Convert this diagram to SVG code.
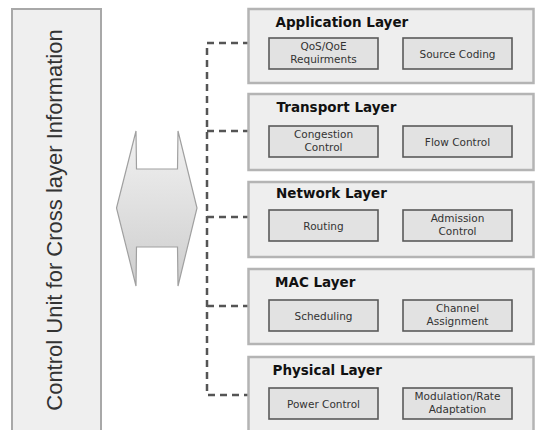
<svg xmlns="http://www.w3.org/2000/svg" width="535" height="430" viewBox="0 0 535 430">
<defs>
<linearGradient id="ag" x1="0" y1="0" x2="0" y2="1">
<stop offset="0" stop-color="#f2f2f2"/>
<stop offset="1" stop-color="#cdcdcd"/>
</linearGradient>
<style>
.layer{fill:#eeeeee;stroke:#b4b4b4;stroke-width:2.5}
.inner{fill:#e2e2e2;stroke:#5a5a5a;stroke-width:1.6}
.title{font-family:"DejaVu Sans",Verdana,sans-serif;font-weight:bold;font-size:13.5px;fill:#111}
.lbl{font-family:"DejaVu Sans",Verdana,sans-serif;font-size:10.5px;fill:#333;text-anchor:middle}
.conn{fill:none;stroke:#555;stroke-width:2.5;stroke-dasharray:7 5}
</style>
</defs>
<rect width="535" height="430" fill="#fff"/>
<g id="control-unit">
<rect x="12" y="9" width="89" height="430" fill="#efefef" stroke="#a8a8a8" stroke-width="2"/>
<text transform="translate(62,220) rotate(-90)" text-anchor="middle" font-family="Liberation Sans, Arial, sans-serif" font-size="22" fill="#333">Control Unit for Cross layer Information</text>
</g>
<g id="arrow">
<path d="M136,131 L136.5,169 L177.5,169 L178,131 L197,208 L178,286 L177.5,247 L136.5,247 L136,286 L116.5,208 Z" fill="url(#ag)" stroke="#a0a0a0" stroke-width="1.2" stroke-linejoin="miter"/>
</g>
<g id="connectors">
<path class="conn" d="M250,43 H207 V395 H250"/>
<path class="conn" d="M207,131 H250"/>
<path class="conn" d="M207,217 H250"/>
<path class="conn" d="M207,306 H250"/>
</g>
<g id="application-layer">
<rect class="layer" x="248.5" y="9" width="285" height="74"/>
<text class="title" x="275.5" y="26.5">Application Layer</text>
<rect class="inner" x="269" y="38" width="109" height="31"/>
<text class="lbl" x="323.5" y="50">QoS/QoE</text>
<text class="lbl" x="323.5" y="63">Requirments</text>
<rect class="inner" x="403" y="38" width="109" height="31"/>
<text class="lbl" x="457.5" y="57.5">Source Coding</text>
</g>
<g id="transport-layer">
<rect class="layer" x="248.5" y="94" width="285" height="76"/>
<text class="title" x="276.5" y="111.5">Transport Layer</text>
<rect class="inner" x="269" y="126" width="109" height="31"/>
<text class="lbl" x="323.5" y="138">Congestion</text>
<text class="lbl" x="323.5" y="151">Control</text>
<rect class="inner" x="403" y="126" width="109" height="31"/>
<text class="lbl" x="457.5" y="145.5">Flow Control</text>
</g>
<g id="network-layer">
<rect class="layer" x="248.5" y="182" width="285" height="75"/>
<text class="title" x="276" y="198">Network Layer</text>
<rect class="inner" x="269" y="210" width="109" height="31"/>
<text class="lbl" x="323.5" y="229.5">Routing</text>
<rect class="inner" x="403" y="210" width="109" height="31"/>
<text class="lbl" x="457.5" y="222">Admission</text>
<text class="lbl" x="457.5" y="235">Control</text>
</g>
<g id="mac-layer">
<rect class="layer" x="248.5" y="269" width="285" height="75"/>
<text class="title" x="275" y="286.5">MAC Layer</text>
<rect class="inner" x="269" y="300" width="109" height="31"/>
<text class="lbl" x="323.5" y="319.5">Scheduling</text>
<rect class="inner" x="403" y="300" width="109" height="31"/>
<text class="lbl" x="457.5" y="312">Channel</text>
<text class="lbl" x="457.5" y="325">Assignment</text>
</g>
<g id="physical-layer">
<rect class="layer" x="248.5" y="357" width="285" height="80"/>
<text class="title" x="272.5" y="375">Physical Layer</text>
<rect class="inner" x="269" y="388" width="109" height="31"/>
<text class="lbl" x="323.5" y="407.5">Power Control</text>
<rect class="inner" x="403" y="388" width="109" height="31"/>
<text class="lbl" x="457.5" y="400">Modulation/Rate</text>
<text class="lbl" x="457.5" y="413">Adaptation</text>
</g>
</svg>
